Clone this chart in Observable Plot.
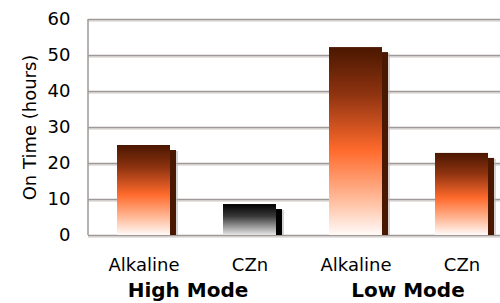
<!DOCTYPE html>
<html>
<head>
<meta charset="utf-8">
<script src="https://cdn.jsdelivr.net/npm/d3@7"></script>
<script src="https://cdn.jsdelivr.net/npm/@observablehq/plot@0.6"></script>
<style>
  html, body { margin: 0; padding: 0; background: #fff; }
</style>
</head>
<body>
<div id="chart"></div>
<script>
// ---- data ----
const modes = ["High Mode", "High Mode", "Low Mode", "Low Mode"];
const batteries = ["Alkaline", "CZn", "Alkaline", "CZn"];
const hours = [25, 8.6, 52.2, 22.8];
const yTicks = [0, 10, 20, 30, 40, 50, 60];
const yLabel = "On Time (hours)";

const data = batteries.map((b, i) => ({
  key: modes[i] + "|" + b, battery: b, mode: modes[i], hours: hours[i]
}));

// ---- styles ----
const isGray = d => d.mode === "High Mode" && d.battery === "CZn";
const gradientOf = d => isGray(d) ? "url(#gGray)" : "url(#gOrange)";
const shadowOf = d => isGray(d) ? "#000000" : "#4a1700";
const groupLabel = (mode, dx) => Plot.text(
  data.filter(d => d.battery === "Alkaline" && d.mode === mode),
  {x: "key", text: "mode", frameAnchor: "bottom", textAnchor: "middle", dy: 61, dx, fontWeight: "bold", fontSize: 20, fill: "#000"}
);

const chart = Plot.plot({
  width: 500,
  height: 303,
  marginTop: 19,
  marginBottom: 68,
  marginLeft: 88,
  marginRight: 0,
  style: {fontFamily: "'DejaVu Sans', Verdana, sans-serif", fontSize: "18px", background: "#fff", color: "#000"},
  x: {domain: data.map(d => d.key), range: [88, 516], paddingInner: 0.5, paddingOuter: 0.26, axis: null},
  y: {domain: [0, 60], axis: null},
  color: {type: "identity"},
  marks: [
    Plot.ruleY(yTicks, {y: d => d, stroke: "#dcd8d6", strokeWidth: 1.5, dy: 1.5}),
    Plot.ruleY(yTicks, {y: d => d, stroke: "#9e9896", strokeWidth: 1.5}),
    Plot.barY(data, {x: "key", y: "hours", dx: 8, insetTop: 6, fill: "#bdb5b2", fillOpacity: 0.6}),
    Plot.barY(data, {x: "key", y: "hours", dx: 6, insetTop: 5, fill: shadowOf}),
    Plot.barY(data, {x: "key", y: "hours", fill: gradientOf}),
    Plot.text(yTicks, {y: d => d, text: d => String(d), frameAnchor: "left", textAnchor: "end", dx: -18, fill: "#000"}),
    Plot.text(data, {x: "key", text: "battery", frameAnchor: "bottom", textAnchor: "middle", dy: 35, fill: "#000"}),
    groupLabel("High Mode", 44),
    groupLabel("Low Mode", 52),
    Plot.text([yLabel], {text: d => d, frameAnchor: "left", textAnchor: "middle", rotate: -90, dx: -58, fill: "#000"})
  ]
});

// gradients
const svg = d3.select(chart);
const defs = svg.insert("defs", ":first-child");
const addGrad = (id, stops) => {
  const g = defs.append("linearGradient").attr("id", id)
    .attr("x1", 0).attr("y1", 0).attr("x2", 0).attr("y2", 1);
  stops.forEach(([o, c]) => g.append("stop").attr("offset", o).attr("stop-color", c));
};
addGrad("gOrange", [[0, "#4a1700"], [0.25, "#8e3310"], [0.55, "#ff6a2c"], [0.8, "#ffb896"], [1, "#fffaf8"]]);
addGrad("gGray", [[0, "#000000"], [0.4, "#3a3a3a"], [1, "#e6e6e6"]]);

// left axis line from the scales
const xs = chart.scale("x"), ys = chart.scale("y");
svg.append("line")
  .attr("x1", xs.range[0]).attr("x2", xs.range[0])
  .attr("y1", ys.range[0]).attr("y2", ys.range[1])
  .attr("stroke", "#9e9896").attr("stroke-width", 1.5);

document.getElementById("chart").appendChild(chart);
</script>
</body>
</html>
